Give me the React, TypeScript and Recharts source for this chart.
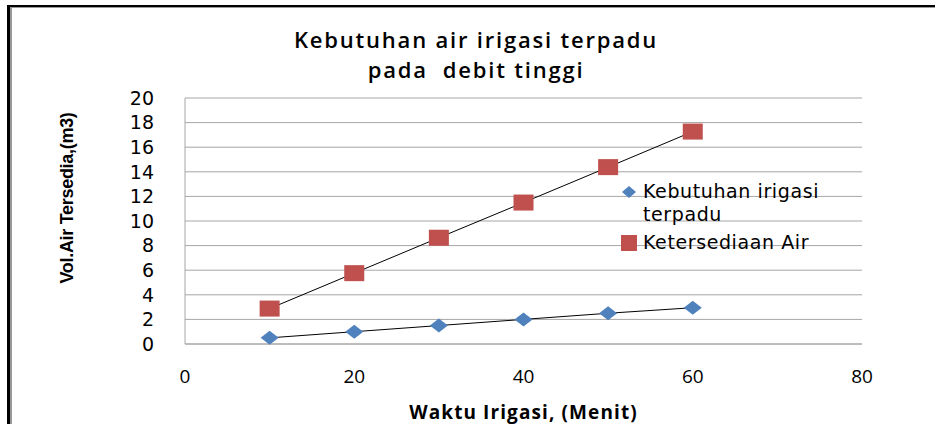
import { ComposedChart, Line, XAxis, YAxis, CartesianGrid } from 'recharts';

const waktu = [10, 20, 30, 40, 50, 60];
const kebutuhan = [0.5, 1.0, 1.5, 2.0, 2.5, 2.95];
const ketersediaan = [2.88, 5.76, 8.64, 11.5, 14.38, 17.27];
const xTicks = [0, 20, 40, 60, 80];
const yTicks = [0, 2, 4, 6, 8, 10, 12, 14, 16, 18, 20];

const BLUE = '#4F81BD';
const RED = '#C0504D';

const data = waktu.map((t, i) => ({
  t,
  kebutuhan: kebutuhan[i],
  ketersediaan: ketersediaan[i],
}));

const Diamond = (p: any) => {
  const { cx, cy } = p;
  if (cx == null || cy == null) return null;
  return <polygon points={`${cx},${cy - 7} ${cx + 9},${cy} ${cx},${cy + 7} ${cx - 9},${cy}`} fill={BLUE} />;
};

const Square = (p: any) => {
  const { cx, cy } = p;
  if (cx == null || cy == null) return null;
  return <rect x={cx - 10} y={cy - 8} width={20} height={16} fill={RED} />;
};

// label sumbu Y ditaruh manual biar posisinya pas
const YLabel = () => (
  <text
    x={67}
    y={198}
    transform="rotate(-90, 67, 198)"
    textAnchor="middle"
    dominantBaseline="central"
    style={{ fontSize: 18, fontWeight: 700, fill: '#000', fontFamily: "'Liberation Sans', sans-serif", letterSpacing: -0.3 }}
  >
    Vol.Air Tersedia,(m3)
  </text>
);

export default function App() {
  return (
    <div style={{ position: 'fixed', left: 0, top: 0, width: 935, height: 424, background: '#fff', overflow: 'hidden' }}>
      {/* bingkai */}
      <div style={{ position: 'absolute', left: 7, top: 5, width: 928, height: 2, background: '#000' }} />
      <div style={{ position: 'absolute', left: 7, top: 5, width: 3, height: 419, background: '#000' }} />
      <div style={{ position: 'absolute', left: 10, top: 7, width: 2, height: 417, background: '#999' }} />
      <div style={{ position: 'absolute', left: 10, top: 7, width: 925, height: 1, background: '#999' }} />

      <div
        style={{
          position: 'absolute', left: 226, top: 24, width: 500, textAlign: 'center',
          fontFamily: "'Open Sans', sans-serif", fontWeight: 600, fontSize: 22, lineHeight: '30px',
          letterSpacing: 1.8, color: '#000',
        }}
      >
        <div>Kebutuhan air irigasi terpadu</div>
        <div>pada&nbsp; debit tinggi</div>
      </div>

      <ComposedChart
        width={935}
        height={424}
        data={data}
        margin={{ top: 98, right: 73, bottom: 0, left: 0 }}
        style={{ position: 'absolute', left: 0, top: 0 }}
      >
        <CartesianGrid horizontal vertical={false} stroke="#a6a6a6" strokeWidth={1} />
        <XAxis
          type="number"
          dataKey="t"
          domain={[0, 80]}
          ticks={xTicks}
          interval={0}
          height={80}
          tickLine={false}
          axisLine={{ stroke: '#a6a6a6' }}
          tick={{ fontSize: 19, fill: '#000', fontFamily: "'Open Sans', sans-serif" }}
          tickMargin={20}
          label={{
            value: 'Waktu Irigasi, (Menit)',
            position: 'insideBottom',
            offset: 5,
            style: { fontSize: 19, fontWeight: 700, fill: '#000', fontFamily: "'Open Sans', sans-serif", letterSpacing: 1.1 },
          }}
        />
        <YAxis
          type="number"
          domain={[0, 20]}
          ticks={yTicks}
          interval={0}
          width={185}
          tickLine={false}
          axisLine={{ stroke: '#a6a6a6' }}
          tick={{ fontSize: 19, fill: '#000', fontFamily: "'DejaVu Sans', sans-serif" }}
          tickMargin={25}
          label={<YLabel />}
        />
        <Line type="linear" dataKey="kebutuhan" stroke="#000" strokeWidth={1} dot={<Diamond />} activeDot={false} isAnimationActive={false} />
        <Line type="linear" dataKey="ketersediaan" stroke="#000" strokeWidth={1} dot={<Square />} activeDot={false} isAnimationActive={false} />
      </ComposedChart>

      {/* legenda */}
      <div style={{ position: 'absolute', left: 620, top: 180, fontFamily: "'DejaVu Sans', sans-serif", fontSize: 19, letterSpacing: 0.6, color: '#000', lineHeight: '23px' }}>
        <div style={{ display: 'flex', alignItems: 'flex-start' }}>
          <svg width={23} height={23} style={{ flex: 'none' }}>
            <polygon points="9,6 16,12 9,18 2,12" fill={BLUE} />
          </svg>
          <div>
            Kebutuhan irigasi
            <br />
            terpadu
          </div>
        </div>
        <div style={{ display: 'flex', alignItems: 'center', marginTop: 5 }}>
          <svg width={23} height={23} style={{ flex: 'none' }}>
            <rect x={1} y={4} width={16} height={16} fill={RED} />
          </svg>
          <div>Ketersediaan Air</div>
        </div>
      </div>
    </div>
  );
}
